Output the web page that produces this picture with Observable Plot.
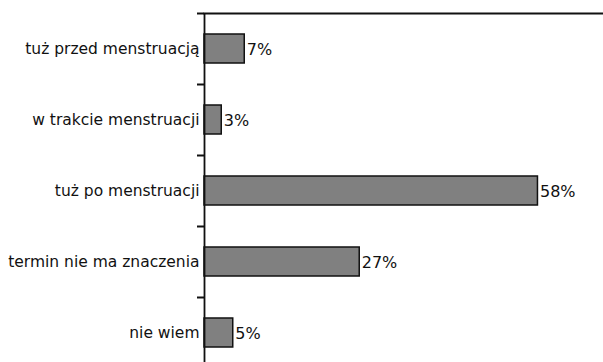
<!DOCTYPE html>
<html>
<head>
<meta charset="utf-8">
<script src="https://cdn.jsdelivr.net/npm/d3@7"></script>
<script src="https://cdn.jsdelivr.net/npm/@observablehq/plot@0.6"></script>
<style>
  html, body { margin: 0; padding: 0; background: #fff; }
  svg { display: block; }
</style>
</head>
<body>
<div id="chart"></div>
<script>
// Kiedy wykonać badanie? Odpowiedzi w procentach.
const categories = [
  "tuż przed menstruacją",
  "w trakcie menstruacji",
  "tuż po menstruacji",
  "termin nie ma znaczenia",
  "nie wiem"
];
const values = [7, 3, 58, 27, 5];

const data = categories.map((c, i) => ({category: c, value: values[i]}));

const W = 603, H = 362;
const plotTop = 13, step = 71;
const font = "DejaVu Sans, sans-serif";

const chart = Plot.plot({
  width: W,
  height: H,
  marginLeft: 204,
  marginRight: 0,
  marginTop: plotTop,
  marginBottom: 0,
  style: {fontFamily: font, fontSize: "15.5px", color: "#111", background: "#fff"},
  x: {domain: [0, 69.4], axis: null},
  y: {domain: categories, range: [plotTop, plotTop + step * categories.length], padding: 0, axis: null},
  marks: [
    // bars
    Plot.barX(data, {
      x: "value", y: "category",
      fill: "#808080", stroke: "#111", strokeWidth: 1.5,
      insetTop: 21, insetBottom: 21
    }),
    // value labels
    Plot.text(data, {
      x: "value", y: "category",
      text: d => `${d.value}%`,
      textAnchor: "start", dx: 2, dy: 1,
      fontSize: 16, fill: "#111"
    }),
    // category boundary ticks
    Plot.axisY({
      tickSize: 7, tickFormat: () => "", dy: -step / 2, label: null,
      strokeWidth: 2, stroke: "#111"
    }),
    // category labels
    Plot.axisY({tickSize: 0, tickPadding: 5, fontSize: 15.5, label: null}),
    // vertical axis line
    Plot.ruleX([0], {stroke: "#111", strokeWidth: 1.8}),
    // top border
    Plot.frame({anchor: "top", stroke: "#111", strokeWidth: 2})
  ]
});

document.getElementById("chart").appendChild(chart);
</script>
</body>
</html>
